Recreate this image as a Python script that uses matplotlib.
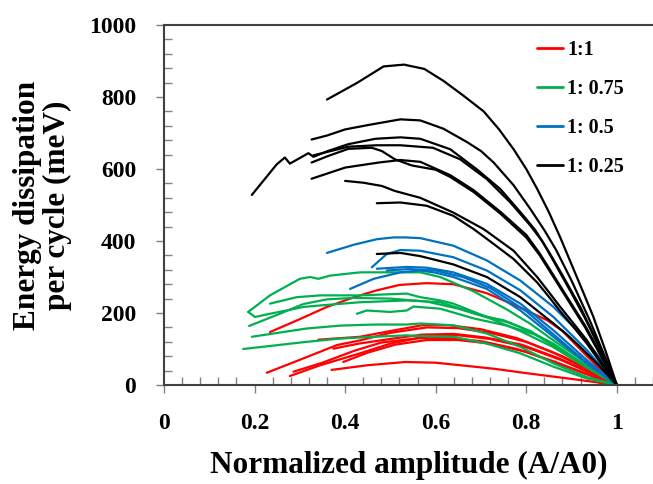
import matplotlib
matplotlib.use('Agg')
import matplotlib.pyplot as plt
from matplotlib.ticker import MultipleLocator, FixedLocator

plt.rcParams['font.family'] = ['Liberation Serif', 'DejaVu Serif']
plt.rcParams['font.weight'] = 'bold'

series_labels = ['1:1', '1: 0.75', '1: 0.5', '1: 0.25']
series_colors = ['#FF0000', '#00B050', '#0070C0', '#000000']

x_ticks = [0, 0.2, 0.4, 0.6, 0.8, 1.0]
x_tick_labels = ['0', '0.2', '0.4', '0.6', '0.8', '1']
y_ticks = [0, 200, 400, 600, 800, 1000]
y_tick_labels = ['0', '200', '400', '600', '800', '1000']

# ratio 1:1 (red)
red_x = [
    [0.234, 0.30, 0.36, 0.42, 0.47, 0.52, 0.58, 0.639, 0.713, 0.787, 0.846, 0.88, 0.934, 1.0],
    [0.227, 0.308, 0.382, 0.433, 0.5, 0.58, 0.65, 0.72, 0.80, 0.88, 0.95, 1.0],
    [0.341, 0.433, 0.5, 0.57, 0.63, 0.7, 0.78, 0.86, 0.94, 1.0],
    [0.278, 0.345, 0.433, 0.5, 0.58, 0.65, 0.72, 0.8, 0.88, 0.95, 1.0],
    [0.286, 0.35, 0.42, 0.48, 0.56, 0.63, 0.7, 0.78, 0.86, 0.94, 1.0],
    [0.374, 0.43, 0.5, 0.57, 0.64, 0.71, 0.79, 0.87, 0.95, 1.0],
    [0.396, 0.45, 0.51, 0.58, 0.65, 0.72, 0.8, 0.88, 0.95, 1.0],
    [0.37, 0.45, 0.533, 0.6, 0.654, 0.73, 0.80, 0.9, 1.0],
]
red_y = [
    [147, 183, 217, 244, 263, 278, 283, 280, 255, 215, 180, 150, 80, 0],
    [34, 74, 111, 124, 145, 160, 158, 145, 120, 80, 35, 0],
    [126, 134, 150, 166, 166, 155, 130, 90, 40, 0],
    [25, 55, 88, 115, 135, 138, 128, 105, 68, 28, 0],
    [37, 62, 95, 118, 130, 130, 122, 100, 66, 28, 0],
    [101, 115, 128, 140, 142, 132, 112, 75, 30, 0],
    [64, 90, 112, 125, 125, 115, 92, 55, 22, 0],
    [42, 55, 64, 62, 55, 45, 33, 17, 0],
]

# ratio 1:0.75 (green)
green_x = [
    [0.186, 0.234, 0.30, 0.323, 0.341, 0.367, 0.433, 0.536, 0.566, 0.61, 0.684, 0.757, 0.809, 0.86, 0.934, 1.0],
    [0.186, 0.201, 0.234, 0.271, 0.308, 0.345, 0.433, 0.536, 0.61, 0.684, 0.757, 0.809, 0.86, 0.934, 1.0],
    [0.234, 0.293, 0.345, 0.433, 0.536, 0.566, 0.61, 0.639, 0.713, 0.75, 0.787, 0.86, 0.934, 1.0],
    [0.188, 0.25, 0.308, 0.36, 0.42, 0.5, 0.58, 0.65, 0.72, 0.787, 0.86, 0.934, 1.0],
    [0.426, 0.448, 0.499, 0.536, 0.551, 0.61, 0.684, 0.757, 0.82, 0.9, 1.0],
    [0.194, 0.315, 0.389, 0.463, 0.536, 0.566, 0.639, 0.713, 0.787, 0.86, 0.934, 1.0],
    [0.175, 0.315, 0.389, 0.463, 0.536, 0.566, 0.639, 0.713, 0.787, 0.86, 0.934, 1.0],
]
green_y = [
    [203, 249, 295, 300, 295, 304, 313, 313, 313, 300, 260, 210, 170, 124, 60, 0],
    [203, 189, 198, 207, 217, 221, 230, 235, 230, 200, 175, 150, 110, 50, 0],
    [226, 244, 249, 249, 254, 244, 235, 226, 189, 180, 161, 115, 52, 0],
    [164, 195, 225, 238, 242, 240, 232, 212, 185, 150, 105, 48, 0],
    [198, 207, 203, 207, 218, 212, 185, 165, 140, 80, 0],
    [134, 157, 165, 168, 168, 171, 166, 143, 106, 60, 22, 0],
    [100, 120, 129, 134, 138, 136, 134, 115, 88, 51, 18, 0],
]

# ratio 1:0.5 (blue)
blue_x = [
    [0.36, 0.42, 0.47, 0.507, 0.533, 0.566, 0.639, 0.713, 0.787, 0.86, 0.919, 0.978, 1.0],
    [0.459, 0.475, 0.492, 0.522, 0.566, 0.639, 0.713, 0.787, 0.86, 0.934, 1.0],
    [0.47, 0.536, 0.58, 0.639, 0.713, 0.787, 0.86, 0.934, 1.0],
    [0.411, 0.463, 0.522, 0.566, 0.60, 0.639, 0.713, 0.787, 0.86, 0.934, 1.0],
    [0.492, 0.54, 0.60, 0.66, 0.72, 0.80, 0.87, 0.94, 1.0],
]
blue_y = [
    [367, 390, 405, 410, 410, 408, 387, 346, 290, 217, 143, 51, 0],
    [327, 345, 364, 375, 373, 355, 318, 263, 189, 97, 0],
    [323, 328, 326, 313, 281, 226, 152, 69, 0],
    [267, 295, 313, 318, 312, 300, 267, 207, 134, 60, 0],
    [318, 322, 318, 300, 270, 205, 130, 55, 0],
]

# ratio 1:0.25 (black)
black_x = [
    [0.36, 0.426, 0.485, 0.53, 0.575, 0.617, 0.66, 0.706, 0.74, 0.772, 0.80, 0.824, 0.85, 0.875, 0.90, 0.925, 0.948, 0.975, 1.0],
    [0.326, 0.36, 0.40, 0.45, 0.522, 0.566, 0.617, 0.669, 0.70, 0.728, 0.772, 0.809, 0.84, 0.866, 0.90, 0.94, 0.97, 1.0],
    [0.194, 0.249, 0.267, 0.278, 0.319, 0.330, 0.362, 0.407, 0.467, 0.522, 0.566, 0.632, 0.691, 0.743, 0.794, 0.82, 0.85, 0.88, 0.92, 0.96, 1.0],
    [0.330, 0.362, 0.407, 0.47, 0.522, 0.594, 0.654, 0.713, 0.765, 0.809, 0.835, 0.86, 0.90, 0.93, 0.965, 1.0],
    [0.326, 0.362, 0.407, 0.459, 0.481, 0.51, 0.547, 0.6, 0.632, 0.684, 0.743, 0.80, 0.83, 0.86, 0.90, 0.93, 0.965, 1.0],
    [0.326, 0.40, 0.474, 0.522, 0.566, 0.632, 0.684, 0.743, 0.80, 0.83, 0.86, 0.90, 0.93, 0.965, 1.0],
    [0.40, 0.44, 0.481, 0.51, 0.566, 0.639, 0.706, 0.772, 0.824, 0.85, 0.875, 0.905, 0.934, 0.965, 1.0],
    [0.47, 0.522, 0.58, 0.639, 0.684, 0.713, 0.772, 0.824, 0.85, 0.875, 0.905, 0.934, 0.965, 1.0],
    [0.47, 0.522, 0.566, 0.639, 0.713, 0.787, 0.86, 0.89, 0.919, 0.96, 1.0],
]
black_y = [
    [793, 839, 885, 890, 878, 845, 805, 760, 710, 655, 600, 545, 480, 410, 335, 260, 190, 95, 0],
    [682, 693, 710, 722, 738, 735, 712, 675, 650, 618, 555, 489, 430, 375, 290, 180, 90, 0],
    [528, 613, 632, 615, 644, 634, 650, 669, 684, 688, 684, 655, 599, 544, 470, 430, 370, 305, 215, 110, 0],
    [638, 648, 662, 666, 666, 659, 627, 572, 507, 443, 400, 345, 255, 185, 95, 0],
    [618, 636, 656, 659, 650, 627, 610, 598, 578, 536, 476, 410, 360, 300, 220, 160, 80, 0],
    [573, 604, 618, 625, 620, 583, 541, 481, 417, 365, 305, 225, 165, 85, 0],
    [567, 562, 553, 539, 520, 479, 433, 373, 300, 258, 217, 170, 124, 65, 0],
    [505, 507, 498, 470, 433, 406, 350, 285, 245, 205, 160, 115, 60, 0],
    [364, 367, 358, 335, 300, 244, 171, 140, 106, 55, 0],
]

groups_x = [red_x, green_x, blue_x, black_x]
groups_y = [red_y, green_y, blue_y, black_y]

fig = plt.figure(figsize=(6.53, 4.84), dpi=100)
ax = fig.add_axes([0.2511, 0.2045, 0.749, 0.7438])

for gx, gy, color, label in zip(groups_x, groups_y, series_colors, series_labels):
    for i, (xs, ys) in enumerate(zip(gx, gy)):
        ax.plot(xs, ys, color=color, lw=1.6, solid_joinstyle='round',
                solid_capstyle='round', label=label if i == 0 else None)

ax.set_xlim(0, 1.08)
ax.set_ylim(0, 1000)
ax.xaxis.set_major_locator(FixedLocator(x_ticks))
ax.set_xticklabels(x_tick_labels)
ax.yaxis.set_major_locator(FixedLocator(y_ticks))
ax.set_yticklabels(y_tick_labels)
ax.xaxis.set_minor_locator(MultipleLocator(0.04))
ax.yaxis.set_minor_locator(MultipleLocator(40))

for side in ['left', 'top', 'bottom']:
    ax.spines[side].set_color('#404040')
    ax.spines[side].set_linewidth(1.5)
ax.spines['right'].set_visible(False)

ax.tick_params(axis='both', which='major', direction='out', length=6, width=1,
               color='#808080', labelsize=17)
ax.tick_params(axis='x', which='major', pad=14)
ax.tick_params(axis='y', which='major', pad=14)
ax.tick_params(axis='both', which='minor', direction='in', length=6, width=1,
               color='#808080')
for lbl in ax.get_xticklabels() + ax.get_yticklabels():
    lbl.set_fontweight('bold')

ax.set_xlabel('Normalized amplitude (A/A0)', fontsize=22.5, fontweight='bold', labelpad=12)
ax.set_ylabel('Energy dissipation\nper cycle (meV)', fontsize=22.5, fontweight='bold',
              labelpad=12, linespacing=1.05)

leg = ax.legend(loc='upper left', bbox_to_anchor=(0.755, 0.97), frameon=False,
                prop={'family': 'Liberation Serif', 'weight': 'bold', 'size': 14.5},
                handlelength=1.3, handletextpad=0.2, labelspacing=0.95,
                borderaxespad=0, borderpad=0.2)
for h in leg.get_lines():
    h.set_linewidth(2)

fig.savefig('out.png', dpi=100)
